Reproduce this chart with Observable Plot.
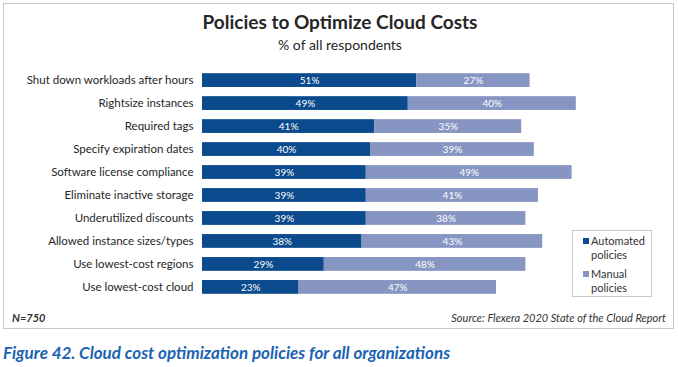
<!DOCTYPE html>
<html><head><meta charset="utf-8">
<script src="https://cdn.jsdelivr.net/npm/d3@7"></script>
<script src="https://cdn.jsdelivr.net/npm/@observablehq/plot@0.6"></script>
<style>
body{margin:0;background:#fff;font-family:Lato,"Open Sans",sans-serif;}
#page{position:relative;width:678px;height:367px;overflow:hidden;}
#frame{position:absolute;left:3px;top:3px;width:671px;height:326px;border:1px solid #c8c8c8;box-sizing:border-box;}
#title{position:absolute;left:0;width:680px;top:10px;text-align:center;font-size:19px;font-weight:bold;color:#262626;}
#subtitle{position:absolute;left:0;width:680px;top:36px;text-align:center;font-size:14px;color:#262626;}
#chart{position:absolute;left:0;top:0;}
#legend{position:absolute;left:572px;top:230px;width:80px;height:67px;border:1px solid #c8c8c8;box-sizing:border-box;font-size:11px;color:#333;line-height:14px;padding:3px 0 0 10px;}
.sw{display:inline-block;width:6px;height:6px;margin-right:2px;vertical-align:1px;}
#n{position:absolute;left:12px;top:311px;font-size:11px;font-style:italic;font-weight:bold;color:#333;}
#src{position:absolute;right:12px;top:311px;font-size:11px;font-style:italic;color:#333;}
#cap{position:absolute;left:3px;top:342px;font-size:17px;font-style:italic;font-weight:bold;color:#1a63b3;}
</style></head>
<body>
<div id="page">
<div id="frame"></div>
<div id="title">Policies to Optimize Cloud Costs</div>
<div id="subtitle">% of all respondents</div>
<div id="chart"></div>
<div id="legend"></div>
<div id="n">N=750</div>
<div id="src">Source: Flexera 2020 State of the Cloud Report</div>
<div id="cap">Figure 42. Cloud cost optimization policies for all organizations</div>
</div>
<script>
const policies = ["Shut down workloads after hours","Rightsize instances","Required tags","Specify expiration dates","Software license compliance","Eliminate inactive storage","Underutilized discounts","Allowed instance sizes/types","Use lowest-cost regions","Use lowest-cost cloud"];
const automated = [51,49,41,40,39,39,39,38,29,23];
const manual = [27,40,35,39,49,41,38,43,48,47];
const seriesNames = ["Automated policies","Manual policies"];
const seriesColors = ["#0b4a8c","#8795c2"];

const data = [];
policies.forEach((p,i)=>{
  data.push({policy:p,type:seriesNames[0],value:automated[i]});
  data.push({policy:p,type:seriesNames[1],value:manual[i]});
});

const chart = Plot.plot({
  width:678, height:303,
  marginLeft:202, marginRight:56, marginTop:64, marginBottom:0,
  style:{fontFamily:"Lato, 'Open Sans', sans-serif", background:"transparent"},
  x:{domain:[0,100], axis:null},
  y:{domain:policies, padding:0.4, round:false, label:null},
  color:{domain:seriesNames, range:seriesColors},
  marks:[
    Plot.barX(data, Plot.stackX({x:"value", y:"policy", fill:"type", order:seriesNames})),
    Plot.text(data, Plot.stackX({x:"value", y:"policy", z:"type", order:seriesNames, text:d=>d.value+"%", fill:"white", fontSize:10})),
    Plot.axisY({tickSize:0, tickPadding:9, fontSize:11.5, color:"#262626", label:null})
  ]
});
document.getElementById("chart").appendChild(chart);

const leg = document.getElementById("legend");
seriesNames.forEach((s,i)=>{
  const parts = s.split(" ");
  const d = document.createElement("div");
  d.style.marginBottom = "5px";
  d.innerHTML = `<span class="sw" style="background:${seriesColors[i]}"></span>${parts[0]}<br><span style="padding-left:8px">${parts[1]}</span>`;
  leg.appendChild(d);
});
</script>
</body></html>
